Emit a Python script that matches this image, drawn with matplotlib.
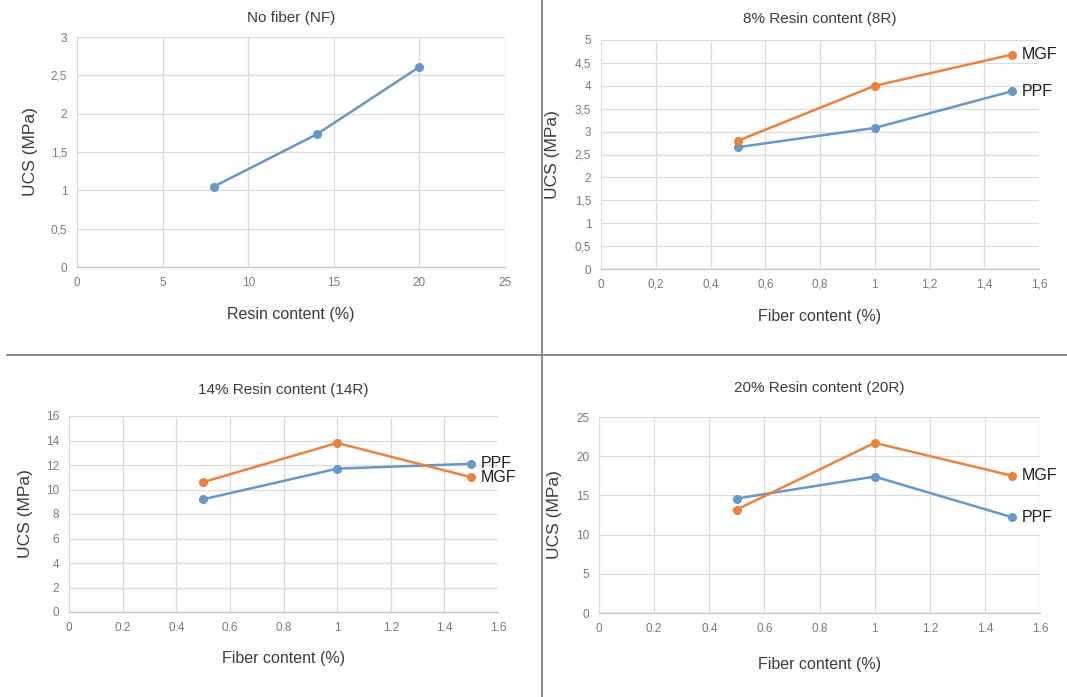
import numpy as np
import matplotlib
matplotlib.use("Agg")
import matplotlib.pyplot as plt
from matplotlib.lines import Line2D
from matplotlib.ticker import FuncFormatter

plt.rcParams['font.family'] = ['Liberation Sans', 'DejaVu Sans']

# data
nf_resin = [8, 14, 20]
nf_ucs = [1.05, 1.73, 2.61]

fiber = [0.5, 1.0, 1.5]
r8_mgf = [2.80, 4.00, 4.68]
r8_ppf = [2.66, 3.08, 3.88]
r14_mgf = [10.6, 13.8, 11.0]
r14_ppf = [9.2, 11.7, 12.1]
r20_mgf = [13.2, 21.7, 17.5]
r20_ppf = [14.6, 17.4, 12.2]

BLUE = '#6798c8'
ORANGE = '#e9833d'
TXT = '#3c3c3c'
TICK = '#7a7a7a'

W, H = 1067, 697
fig = plt.figure(figsize=(W / 100, H / 100), dpi=100)
fig.patch.set_facecolor('white')


def make_axes(x0, y0, x1, y1):
    # pixel box -> figure fraction
    return fig.add_axes([x0 / W, 1 - y1 / H, (x1 - x0) / W, (y1 - y0) / H])


def comma(v, pos):
    return f"{round(v, 2):g}".replace('.', ',')


def dot(v, pos):
    return f"{round(v, 2):g}"


def style(ax, box, xticks, yticks, fmt, title, xlabel, title_dy, xlab_dy, ylab_dx):
    x0, y0, x1, y1 = box
    w, h = x1 - x0, y1 - y0
    ax.set_xlim(xticks[0], xticks[-1])
    ax.set_ylim(yticks[0], yticks[-1])
    ax.set_xticks(xticks)
    ax.set_yticks(yticks)
    ax.xaxis.set_major_formatter(FuncFormatter(fmt))
    ax.yaxis.set_major_formatter(FuncFormatter(fmt))
    ax.grid(True, color='#dcdcdc', lw=0.9)
    ax.set_axisbelow(True)
    for s in ['top', 'right', 'left']:
        ax.spines[s].set_visible(False)
    ax.spines['bottom'].set_color('#c8c8c8')
    ax.spines['bottom'].set_linewidth(1.0)
    ax.tick_params(length=0, labelsize=8.5, labelcolor=TICK, pad=7)
    ax.text(0.5, 1 + title_dy / h, title, transform=ax.transAxes,
            ha='center', va='center', fontsize=11, color=TXT)
    ax.set_xlabel(xlabel, fontsize=11.5, color=TXT)
    ax.xaxis.label.set_va('center')
    ax.xaxis.set_label_coords(0.5, -xlab_dy / h)
    ax.set_ylabel('UCS (MPa)', fontsize=12.5, color=TXT)
    ax.yaxis.label.set_va('center')
    ax.yaxis.set_label_coords(-ylab_dx / w, 0.5)


def series(ax, x, y, color, label=None):
    ax.plot(x, y, color=color, lw=1.8, marker='o', ms=5.5, mec=color, mfc=color)
    if label:
        ax.annotate(label, (x[-1], y[-1]), xytext=(7, 0), textcoords='offset points',
                    ha='left', va='center', fontsize=11.5, color='#1e1e1e')


fiber_ticks = np.round(np.arange(0, 1.61, 0.2), 1)

# No fiber
box = (77, 37, 505, 267)
ax = make_axes(*box)
series(ax, nf_resin, nf_ucs, BLUE)
style(ax, box, np.arange(0, 26, 5), np.arange(0, 3.01, 0.5), comma,
      'No fiber (NF)', 'Resin content (%)', 19, 47, 46)

# 8R
box = (601, 40, 1039, 269)
ax = make_axes(*box)
series(ax, fiber, r8_ppf, BLUE, 'PPF')
series(ax, fiber, r8_mgf, ORANGE, 'MGF')
style(ax, box, fiber_ticks, np.arange(0, 5.01, 0.5), comma,
      '8% Resin content (8R)', 'Fiber content (%)', 21, 47, 48)

# 14R
box = (69, 416, 498, 612)
ax = make_axes(*box)
series(ax, fiber, r14_ppf, BLUE, 'PPF')
series(ax, fiber, r14_mgf, ORANGE, 'MGF')
style(ax, box, fiber_ticks, np.arange(0, 17, 2), dot,
      '14% Resin content (14R)', 'Fiber content (%)', 26, 46, 43)

# 20R
box = (599, 417, 1040, 613)
ax = make_axes(*box)
series(ax, fiber, r20_ppf, BLUE, 'PPF')
series(ax, fiber, r20_mgf, ORANGE, 'MGF')
style(ax, box, fiber_ticks, np.arange(0, 26, 5), dot,
      '20% Resin content (20R)', 'Fiber content (%)', 29, 52, 45)

# panel dividers
fig.add_artist(Line2D([542 / W, 542 / W], [0, 1], color='#808080', lw=1.3))
fig.add_artist(Line2D([7 / W, 1], [1 - 355 / H, 1 - 355 / H], color='#808080', lw=1.3))

fig.savefig('out.png', dpi=100, facecolor='white')
